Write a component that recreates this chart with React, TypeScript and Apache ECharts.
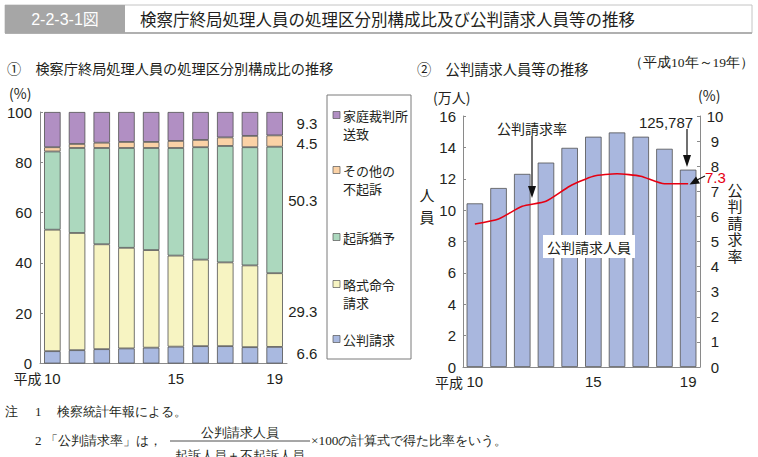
import React, { useEffect, useRef } from 'react';
import * as echarts from 'echarts';

// ---- Data ----
const years = ['10', '11', '12', '13', '14', '15', '16', '17', '18', '19'];
const shownYearIdx = [0, 5, 9];
// ① 構成比 (%)  bottom -> top
const kohanSeikyu = [4.9, 5.3, 5.7, 6.0, 6.3, 6.7, 6.9, 6.9, 6.5, 6.6];
const ryakushikiMeirei = [48.3, 46.6, 41.7, 40.0, 38.8, 36.2, 34.4, 33.3, 32.5, 29.3];
const kisoYuyo = [31.1, 33.8, 38.3, 39.7, 40.6, 42.8, 44.7, 46.3, 47.0, 50.3];
const sonotaFukiso = [1.7, 1.6, 2.1, 2.4, 2.4, 2.8, 2.9, 3.4, 4.5, 4.5];
const kateiSoichi = [14.0, 12.7, 12.2, 11.9, 11.9, 11.5, 11.1, 10.1, 9.5, 9.3];
const stackNames = ['公判請求', '略式命令請求', '起訴猶予', 'その他の不起訴', '家庭裁判所送致'];
const stackColors = ['#a9b9e0', '#f7f4c2', '#acd8be', '#fbd2a6', '#b18fc3'];
const legendLabels = ['家庭裁判所\n送致', 'その他の\n不起訴', '起訴猶予', '略式命令\n請求', '公判請求'];
const legendColors = ['#b18fc3', '#fbd2a6', '#acd8be', '#f7f4c2', '#a9b9e0'];
const legendCenters = [115, 170, 237, 284, 339];
const endLabelOffsets = [-2, 1, -9, 2, 0];
// ② 公判請求人員 (万人) and 公判請求率 (%)
const kohanJinin = [10.43, 11.41, 12.31, 13.03, 13.97, 14.68, 14.95, 14.68, 13.91, 12.58];
const kohanRitsu = [5.7, 5.9, 6.4, 6.6, 7.2, 7.6, 7.7, 7.6, 7.3, 7.3];

const SANS = '"Liberation Sans", "Noto Sans CJK JP", sans-serif';
const JP = '"Noto Sans CJK JP", sans-serif';
const SERIF = '"Liberation Serif", "DejaVu Serif", serif';
const TXT = '#231f20';

const txt = (text: string, x: number, y: number, o: any = {}) => ({
  type: 'text',
  x,
  y,
  z: 100,
  silent: true,
  style: {
    text,
    fontSize: o.fontSize ?? 14,
    fontFamily: o.fontFamily ?? JP,
    fill: o.fill ?? TXT,
    align: o.align ?? 'left',
    verticalAlign: o.verticalAlign ?? 'middle',
    lineHeight: o.lineHeight,
  },
});

export default function App() {
  const ref = useRef<HTMLDivElement>(null);
  useEffect(() => {
    if (!ref.current) return;
    const chart = echarts.init(ref.current, undefined, { renderer: 'svg' });

    const stackData = [kohanSeikyu, ryakushikiMeirei, kisoYuyo, sonotaFukiso, kateiSoichi];
    const last = years.length - 1;

    const barSeries = stackData.map((arr, si) => ({
      type: 'bar',
      name: stackNames[si],
      stack: 'ratio',
      xAxisIndex: 0,
      yAxisIndex: 0,
      barWidth: 16.5,
      itemStyle: { color: stackColors[si], borderColor: '#505050', borderWidth: 0.8 },
      data: arr.map((v, i) =>
        i === last
          ? {
              value: v,
              label: {
                show: true,
                position: 'right',
                distance: 0,
                align: 'right',
                offset: [34.5, endLabelOffsets[si]],
                fontSize: 15,
                fontFamily: SANS,
                color: TXT,
                formatter: '{c}',
              },
            }
          : v
      ),
    }));

    const axisLineStyle = { color: '#8a8a8a', width: 1 };
    const labelInterval = (i: number) => shownYearIdx.includes(i);

    const graphics: any[] = [
      // header
      { type: 'rect', z: 100, shape: { x: 5, y: 5, width: 747, height: 28 }, style: { fill: '#fff', stroke: '#c4c4c4', lineWidth: 1 } },
      { type: 'line', z: 100, shape: { x1: 5, y1: 33, x2: 752, y2: 33 }, style: { stroke: '#b0b0b0', lineWidth: 2 } },
      { type: 'rect', z: 100, shape: { x: 5, y: 5, width: 120, height: 28 }, style: { fill: '#a6a6a6' } },
      txt('2-2-3-1図', 65, 19, { fill: '#fff', fontSize: 16, fontFamily: SANS, align: 'center' }),
      txt('検察庁終局処理人員の処理区分別構成比及び公判請求人員等の推移', 140, 19, { fontSize: 16.5 }),
      // sub titles
      txt('①　検察庁終局処理人員の処理区分別構成比の推移', 7, 68, { fontSize: 14.2 }),
      txt('②　公判請求人員等の推移', 417, 68, { fontSize: 14.3 }),
      txt('（平成10年～19年）', 754, 62, { fontSize: 13.5, fontFamily: SERIF, align: 'right' }),
      // units
      txt('(%)', 9, 93, { fontSize: 14 }),
      txt('(万人)', 433, 97, { fontSize: 14 }),
      txt('(%)', 698, 95, { fontSize: 14 }),
      txt('平成', 41.5, 378, { fontSize: 14, align: 'right' }),
      txt('平成', 463, 382, { fontSize: 14, align: 'right' }),
      txt('人', 427, 194, { fontSize: 15, align: 'center' }),
      txt('員', 427, 216, { fontSize: 15, align: 'center' }),
      txt('公\n判\n請\n求\n率', 735, 181, { fontSize: 15, align: 'center', verticalAlign: 'top', lineHeight: 16.5 }),
      // legend box
      { type: 'rect', z: 100, shape: { x: 327, y: 95, width: 84, height: 264 }, style: { fill: 'none', stroke: '#7a7a7a', lineWidth: 1 } },
      // annotations
      txt('公判請求率', 532, 128, { fontSize: 14, align: 'center' }),
      { type: 'line', z: 100, shape: { x1: 532, y1: 136, x2: 532, y2: 188 }, style: { stroke: '#111', lineWidth: 1.2 } },
      { type: 'polygon', z: 100, shape: { points: [[528, 186], [536, 186], [532, 198]] }, style: { fill: '#111' } },
      txt('125,787', 666, 122, { fontSize: 15, fontFamily: SANS, align: 'center' }),
      { type: 'line', z: 100, shape: { x1: 687, y1: 129, x2: 687, y2: 158 }, style: { stroke: '#111', lineWidth: 1.2 } },
      { type: 'polygon', z: 100, shape: { points: [[683, 155], [691, 155], [687, 167]] }, style: { fill: '#111' } },
      txt('7.3', 705, 177, { fontSize: 15, fontFamily: SANS, fill: '#e60012' }),
      { type: 'line', z: 100, shape: { x1: 705, y1: 176, x2: 697, y2: 180 }, style: { stroke: '#111', lineWidth: 1.2 } },
      { type: 'polygon', z: 100, shape: { points: [[700, 183.5], [696, 176.5], [689.5, 184.5]] }, style: { fill: '#111' } },
      { type: 'rect', z: 99, shape: { x: 543, y: 235, width: 92, height: 23 }, style: { fill: '#fff' } },
      txt('公判請求人員', 589, 247, { fontSize: 14, align: 'center' }),
      // footnotes
      txt('注', 5, 411, { fontSize: 13, fontFamily: SERIF }),
      txt('1', 35, 411, { fontSize: 13, fontFamily: SERIF }),
      txt('検察統計年報による。', 57, 411, { fontSize: 13, fontFamily: SERIF }),
      txt('2', 35, 440, { fontSize: 13, fontFamily: SERIF }),
      txt('「公判請求率」は，', 45, 440, { fontSize: 13, fontFamily: SERIF }),
      txt('公判請求人員', 240, 432, { fontSize: 13, fontFamily: SERIF, align: 'center' }),
      { type: 'line', z: 100, shape: { x1: 170, y1: 441, x2: 310, y2: 441 }, style: { stroke: '#222', lineWidth: 0.8 } },
      txt('起訴人員＋不起訴人員', 240, 455, { fontSize: 13, fontFamily: SERIF, align: 'center' }),
      txt('×100の計算式で得た比率をいう。', 311, 440, { fontSize: 13.3, fontFamily: SERIF }),
    ];

    legendLabels.forEach((lab, i) => {
      const cy = legendCenters[i];
      graphics.push({
        type: 'rect',
        z: 100,
        shape: { x: 333, y: cy - 3.5, width: 7, height: 7 },
        style: { fill: legendColors[i], stroke: '#555', lineWidth: 0.7 },
      });
      graphics.push(txt(lab, 343, cy - 9, { fontSize: 13, verticalAlign: 'top', lineHeight: 18.5 }));
    });

    chart.setOption({
      animation: false,
      backgroundColor: '#fff',
      grid: [
        { left: 40, top: 112, width: 247, height: 251.5, containLabel: false },
        { left: 463, top: 116, width: 237, height: 251, containLabel: false },
      ],
      xAxis: [
        {
          type: 'category',
          gridIndex: 0,
          data: years,
          axisLine: { lineStyle: axisLineStyle },
          axisTick: { show: false },
          axisLabel: { interval: labelInterval, margin: 7, fontSize: 15, fontFamily: SANS, color: TXT },
        },
        {
          type: 'category',
          gridIndex: 1,
          data: years,
          axisLine: { lineStyle: axisLineStyle },
          axisTick: { show: false },
          axisLabel: { interval: labelInterval, margin: 7, fontSize: 15, fontFamily: SANS, color: TXT },
        },
      ],
      yAxis: [
        {
          type: 'value',
          gridIndex: 0,
          min: 0,
          max: 100,
          interval: 20,
          axisLine: { show: true, lineStyle: axisLineStyle },
          axisTick: { show: true, inside: true, length: 3, lineStyle: axisLineStyle },
          splitLine: { show: false },
          axisLabel: { margin: 8, fontSize: 15, fontFamily: SANS, color: TXT },
        },
        {
          type: 'value',
          gridIndex: 1,
          min: 0,
          max: 16,
          interval: 2,
          axisLine: { show: true, lineStyle: axisLineStyle },
          axisTick: { show: true, inside: true, length: 3, lineStyle: axisLineStyle },
          splitLine: { show: false },
          axisLabel: { margin: 7, fontSize: 15, fontFamily: SANS, color: TXT },
        },
        {
          type: 'value',
          gridIndex: 1,
          position: 'right',
          min: 0,
          max: 10,
          interval: 1,
          axisLine: { show: true, lineStyle: axisLineStyle },
          axisTick: { show: true, inside: true, length: 3, lineStyle: axisLineStyle },
          splitLine: { show: false },
          axisLabel: { margin: 15, align: 'center', fontSize: 15, fontFamily: SANS, color: TXT },
        },
      ],
      series: [
        ...barSeries,
        {
          type: 'bar',
          name: '公判請求人員',
          xAxisIndex: 1,
          yAxisIndex: 1,
          barWidth: 16.5,
          itemStyle: { color: '#a9b7de', borderColor: '#505050', borderWidth: 0.8 },
          data: kohanJinin,
        },
        {
          type: 'line',
          name: '公判請求率',
          xAxisIndex: 1,
          yAxisIndex: 2,
          smooth: 0.2,
          symbol: 'none',
          lineStyle: { color: '#e60012', width: 1.6 },
          data: kohanRitsu,
          z: 5,
        },
      ],
      graphic: graphics,
    });

    return () => chart.dispose();
  }, []);

  return (
    <div
      ref={ref}
      style={{ position: 'fixed', left: 0, top: 0, width: 758, height: 457, background: '#fff' }}
    />
  );
}
